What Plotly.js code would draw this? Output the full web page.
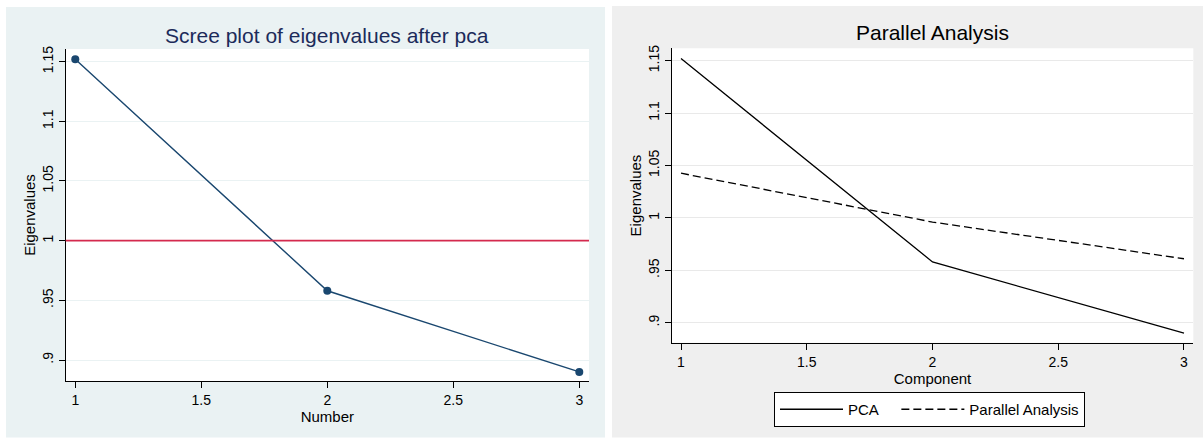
<!DOCTYPE html>
<html>
<head>
<meta charset="utf-8">
<script src="https://cdn.plot.ly/plotly-3.0.1.min.js"></script>
<style>
  html, body { margin: 0; padding: 0; background: #ffffff; }
  #chart { width: 1203px; height: 438px; }
</style>
</head>
<body>
<div id="chart"></div>
<script>
// ---- Data ----
const components = [1, 2, 3];
const pcaEigenvalues = [1.152, 0.958, 0.890];
const parallelEigenvalues = [1.0426, 0.996, 0.961];
const kaiserThreshold = 1;

const yTickVals = [0.9, 0.95, 1, 1.05, 1.1, 1.15];
const yTickText = ['.9', '.95', '1', '1.05', '1.1', '1.15'];
const xTickVals = [1, 1.5, 2, 2.5, 3];
const xTickText = ['1', '1.5', '2', '2.5', '3'];

const leftTitle = 'Scree plot of eigenvalues after pca';
const rightTitle = 'Parallel Analysis';
const leftXTitle = 'Number';
const rightXTitle = 'Component';
const yTitle = 'Eigenvalues';
const seriesNames = ['PCA', 'Parallel Analysis'];

// ---- Geometry helpers (pixel -> paper) ----
const W = 1203, H = 438;
const px = v => v / W;
const py = v => 1 - v / H;

const FONT = 'Liberation Sans, Arial, Helvetica, sans-serif';
const navy = '#1a476f';

const traces = [
  {
    x: components, y: pcaEigenvalues, xaxis: 'x', yaxis: 'y',
    type: 'scatter', mode: 'lines+markers', showlegend: false,
    line: { color: navy, width: 1.4 },
    marker: { color: navy, size: 8 },
    hoverinfo: 'x+y'
  },
  {
    x: components, y: pcaEigenvalues, xaxis: 'x2', yaxis: 'y2',
    type: 'scatter', mode: 'lines', name: seriesNames[0] + '\u00a0\u00a0\u00a0',
    line: { color: '#000000', width: 1.3 }
  },
  {
    x: components, y: parallelEigenvalues, xaxis: 'x2', yaxis: 'y2',
    type: 'scatter', mode: 'lines', name: seriesNames[1],
    line: { color: '#000000', width: 1.3, dash: '8px,4px' }
  }
];

const axisCommon = {
  showline: true, linecolor: '#000000', linewidth: 1,
  ticks: 'outside', ticklen: 6, tickwidth: 1, tickcolor: '#000000',
  zeroline: false, automargin: false,
  tickfont: { family: FONT, size: 14, color: '#000000' }
};

const layout = {
  width: W, height: H, autosize: false,
  margin: { l: 0, r: 0, t: 0, b: 0, pad: 0 },
  paper_bgcolor: '#ffffff', plot_bgcolor: '#ffffff',
  font: { family: FONT, color: '#000000' },
  showlegend: true,
  legend: {
    orientation: 'h', x: px(774), y: py(392), xanchor: 'left', yanchor: 'top',
    bgcolor: '#ffffff', bordercolor: '#000000', borderwidth: 1,
    font: { family: FONT, size: 15, color: '#000000' },
    itemwidth: 63, tracegroupgap: 0
  },
  xaxis: Object.assign({}, axisCommon, {
    domain: [px(65.7), px(589)], anchor: 'y',
    range: [0.962, 3.0385], tickvals: xTickVals, ticktext: xTickText,
    showgrid: false,
    title: { text: leftXTitle, font: { family: FONT, size: 15, color: '#000000' }, standoff: 0 }
  }),
  yaxis: Object.assign({}, axisCommon, {
    domain: [1 - 381 / H, 1 - 49 / H], anchor: 'x',
    range: [0.8824, 1.1606], tickvals: yTickVals, ticktext: yTickText,
    tickangle: -90, showgrid: true, gridcolor: '#eaf2f3', gridwidth: 1,
    title: { text: yTitle, font: { family: FONT, size: 15, color: '#000000' }, standoff: 0 }
  }),
  xaxis2: Object.assign({}, axisCommon, {
    domain: [px(671.7), px(1193.3)], anchor: 'y2',
    range: [0.963, 3.037], tickvals: xTickVals, ticktext: xTickText,
    showgrid: false,
    title: { text: rightXTitle, font: { family: FONT, size: 15, color: '#000000' }, standoff: 0 }
  }),
  yaxis2: Object.assign({}, axisCommon, {
    domain: [1 - 342.7 / H, 1 - 48.3 / H], anchor: 'x2',
    range: [0.8809, 1.1618], tickvals: yTickVals, ticktext: yTickText,
    tickangle: -90, showgrid: true, gridcolor: '#e9e9e9', gridwidth: 1,
    title: { text: yTitle, font: { family: FONT, size: 15, color: '#000000' }, standoff: 0 }
  }),
  shapes: [
    { type: 'rect', xref: 'paper', yref: 'paper', layer: 'below',
      x0: px(6), x1: px(605), y0: py(437.5), y1: py(7),
      fillcolor: '#eaf2f3', line: { width: 0 } },
    { type: 'rect', xref: 'paper', yref: 'paper', layer: 'below',
      x0: px(612), x1: px(1203), y0: py(437.5), y1: py(6),
      fillcolor: '#efefef', line: { width: 0 } },
    { type: 'rect', xref: 'x domain', yref: 'y domain', layer: 'below',
      x0: 0, x1: 1, y0: 0, y1: 1, fillcolor: '#ffffff', line: { width: 0 } },
    { type: 'rect', xref: 'x2 domain', yref: 'y2 domain', layer: 'below',
      x0: 0, x1: 1, y0: 0, y1: 1, fillcolor: '#ffffff', line: { width: 0 } },
    { type: 'line', xref: 'x domain', yref: 'y', layer: 'above',
      x0: 0, x1: 1, y0: kaiserThreshold, y1: kaiserThreshold,
      line: { color: '#d42a4e', width: 1.6 } }
  ],
  annotations: [
    { text: leftTitle, xref: 'paper', yref: 'paper',
      x: px(327.3), y: py(35), xanchor: 'center', yanchor: 'middle', showarrow: false,
      font: { family: FONT, size: 21, color: '#1c2b5a' } },
    { text: rightTitle, xref: 'paper', yref: 'paper',
      x: px(932.5), y: py(33), xanchor: 'center', yanchor: 'middle', showarrow: false,
      font: { family: FONT, size: 21, color: '#000000' } }
  ]
};

Plotly.newPlot('chart', traces, layout, { displayModeBar: false, staticPlot: true });
</script>
</body>
</html>
